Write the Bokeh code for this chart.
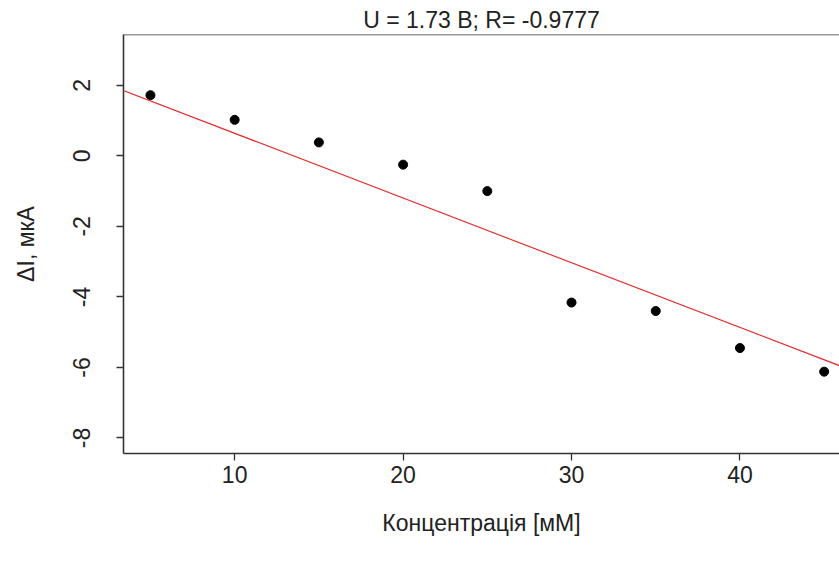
from bokeh.plotting import figure
from bokeh.models import Range1d, FixedTicker, Span, Slope, PrintfTickFormatter
from bokeh.embed import file_html
from bokeh.resources import INLINE

# ---- data ----
conc = [5, 10, 15, 20, 25, 30, 35, 40, 45]
delta_i = [1.72, 1.02, 0.38, -0.25, -1.00, -4.16, -4.40, -5.45, -6.12]
fit_intercept = 2.474
fit_slope = -0.1835
x_ticks = [10, 20, 30, 40]
y_ticks = [-8, -6, -4, -2, 0, 2]
title_text = "U = 1.73 B; R= -0.9777"
x_label = "Концентрація [мМ]"
y_label = "ΔI, мкА"

FONT = "Liberation Sans"
FS = "23px"
INK = "#222222"

p = figure(width=839, height=563, output_backend="svg", toolbar_location=None,
           x_range=Range1d(3.4, 45.91), y_range=Range1d(-8.44, 3.44),
           min_border_left=123, min_border_right=0, min_border_top=34,
           min_border_bottom=110, title=title_text)

p.background_fill_color = "white"
p.border_fill_color = "white"
p.outline_line_color = None
p.grid.visible = False

p.title.align = "center"
p.title.text_font = FONT
p.title.text_font_size = FS
p.title.text_font_style = "normal"
p.title.text_color = INK
p.title.standoff = 3
p.title.offset = 5

for ax in (p.xaxis[0], p.yaxis[0]):
    ax.axis_line_color = "#333333"
    ax.axis_line_width = 1.6
    ax.major_tick_line_color = "#333333"
    ax.major_tick_line_width = 1.3
    ax.major_tick_out = 7
    ax.major_tick_in = 0
    ax.minor_tick_line_color = None
    ax.major_label_text_font = FONT
    ax.major_label_text_font_size = FS
    ax.major_label_text_color = INK
    ax.axis_label_text_font = FONT
    ax.axis_label_text_font_size = FS
    ax.axis_label_text_font_style = "normal"
    ax.axis_label_text_color = INK

p.xaxis.ticker = FixedTicker(ticks=x_ticks)
p.yaxis.ticker = FixedTicker(ticks=y_ticks)
p.xaxis.formatter = PrintfTickFormatter(format="%d")
p.yaxis.formatter = PrintfTickFormatter(format="%d")
p.xaxis.axis_label = x_label
p.yaxis.axis_label = y_label
p.xaxis.major_label_standoff = 5
p.xaxis.axis_label_standoff = 24
p.yaxis.major_label_orientation = "parallel"
p.yaxis.major_label_standoff = 26
p.yaxis.axis_label_standoff = 32

# top border of the box
p.add_layout(Span(location=3.44, dimension="width", line_color="#333333", line_width=1.6))

# regression line
p.add_layout(Slope(gradient=fit_slope, y_intercept=fit_intercept,
                   line_color="#e03030", line_width=1.2))

p.scatter(conc, delta_i, size=9, color="black")

open("out.html", "w").write(file_html(p, INLINE))
